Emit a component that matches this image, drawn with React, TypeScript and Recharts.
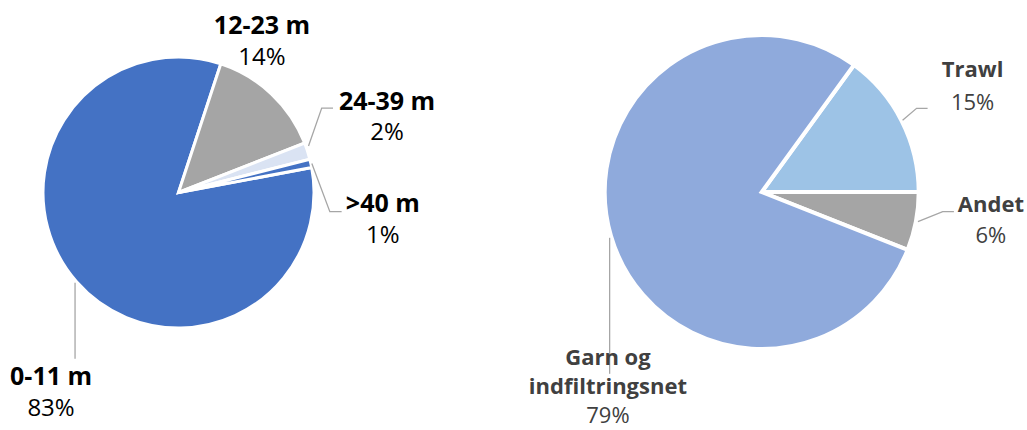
import React from 'react';
import { PieChart, Pie, Cell } from 'recharts';

// Left pie: vessel length
const lengthCategories = ['0-11 m', '12-23 m', '24-39 m', '>40 m'];
const lengthShares = [83, 14, 2, 1];
const lengthColors = ['#4472C4', '#A5A5A5', '#DAE3F3', '#4472C4'];

// Right pie: gear type
const gearCategories = ['Trawl', 'Andet', 'Garn og\nindfiltringsnet'];
const gearShares = [15, 6, 79];
const gearColors = ['#9DC3E6', '#A5A5A5', '#8FAADC'];

const leftData = lengthCategories.map((name, i) => ({ name, value: lengthShares[i] }));
const rightData = gearCategories.map((name, i) => ({ name, value: gearShares[i] }));

type Layout = { dx: number; dy: number; line?: number[][]; gap: number };

// label placement relative to the slice's outer edge point at mid angle
const leftLayout: Layout[] = [
  { dx: -25.5, dy: 103, line: [[-1.5, 1], [-1.5, 77]], gap: 31 },
  { dx: -9.6, dy: -60, gap: 31 },
  { dx: 79.5, dy: -41, line: [[1, -5], [14.2, -43], [25.5, -43]], gap: 30 },
  { dx: 72, dy: 48.3, line: [[1, 0], [19, 48.3], [30.8, 48.3]], gap: 31.5 },
];
const rightLayout: Layout[] = [
  { dx: 71, dy: -44, line: [[1, -0.5], [15, -12.4], [26, -12.4]], gap: 33 },
  { dx: 75, dy: -9.7, line: [[2, 0.3], [26.8, -9.7], [38, -9.7]], gap: 31.5 },
  { dx: -3, dy: 129, line: [[-1.3, 2], [-1.3, 138]], gap: 29 },
];

const RAD = Math.PI / 180;

function makeLabel(layout: Layout[], opts: { color: string; family: string; boldSize: number; size: number }) {
  return (props: any) => {
    const { cx, cy, midAngle, outerRadius, index, name, value } = props;
    const ex = cx + Math.cos(-midAngle * RAD) * outerRadius;
    const ey = cy + Math.sin(-midAngle * RAD) * outerRadius;
    const l = layout[index];
    const lines = String(name).split('\n');
    const tx = ex + l.dx;
    const ty = ey + l.dy;
    return (
      <g key={`lbl-${index}`}>
        {l.line && (
          <polyline
            points={l.line.map(([px, py]) => `${ex + px},${ey + py}`).join(' ')}
            fill="none"
            stroke="#A6A6A6"
            strokeWidth={1.3}
          />
        )}
        {lines.map((t, k) => (
          <text
            key={k}
            x={tx}
            y={ty + k * l.gap}
            textAnchor="middle"
            fontFamily={opts.family}
            fontWeight="bold"
            fontSize={opts.boldSize}
            fill={opts.color}
          >
            {t}
          </text>
        ))}
        <text
          x={tx}
          y={ty + lines.length * l.gap}
          textAnchor="middle"
          fontFamily={opts.family}
          fontSize={opts.size}
          fill={opts.color}
        >
          {`${value}%`}
        </text>
      </g>
    );
  };
}

export default function App() {
  return (
    <div style={{ position: 'absolute', left: 0, top: 0, width: 1027, height: 430, background: '#fff' }}>
      <PieChart width={1027} height={430} margin={{ top: 0, right: 0, bottom: 0, left: 0 }}>
        <Pie
          data={leftData}
          dataKey="value"
          nameKey="name"
          cx={178.5}
          cy={192.5}
          outerRadius={135.5}
          startAngle={10.6}
          endAngle={-349.4}
          stroke="#FFFFFF"
          strokeWidth={3}
          isAnimationActive={false}
          labelLine={false}
          label={makeLabel(leftLayout, { color: '#000000', family: "'Open Sans', sans-serif", boldSize: 25, size: 24 })}
        >
          {leftData.map((d, i) => (
            <Cell key={d.name} fill={lengthColors[i]} />
          ))}
        </Pie>
        <Pie
          data={rightData}
          dataKey="value"
          nameKey="name"
          cx={761.7}
          cy={192}
          outerRadius={157}
          startAngle={54}
          endAngle={-306}
          stroke="#FFFFFF"
          strokeWidth={4}
          isAnimationActive={false}
          labelLine={false}
          label={makeLabel(rightLayout, { color: '#404040', family: "'Open Sans', sans-serif", boldSize: 22, size: 22 })}
        >
          {rightData.map((d, i) => (
            <Cell key={d.name} fill={gearColors[i]} />
          ))}
        </Pie>
      </PieChart>
    </div>
  );
}
